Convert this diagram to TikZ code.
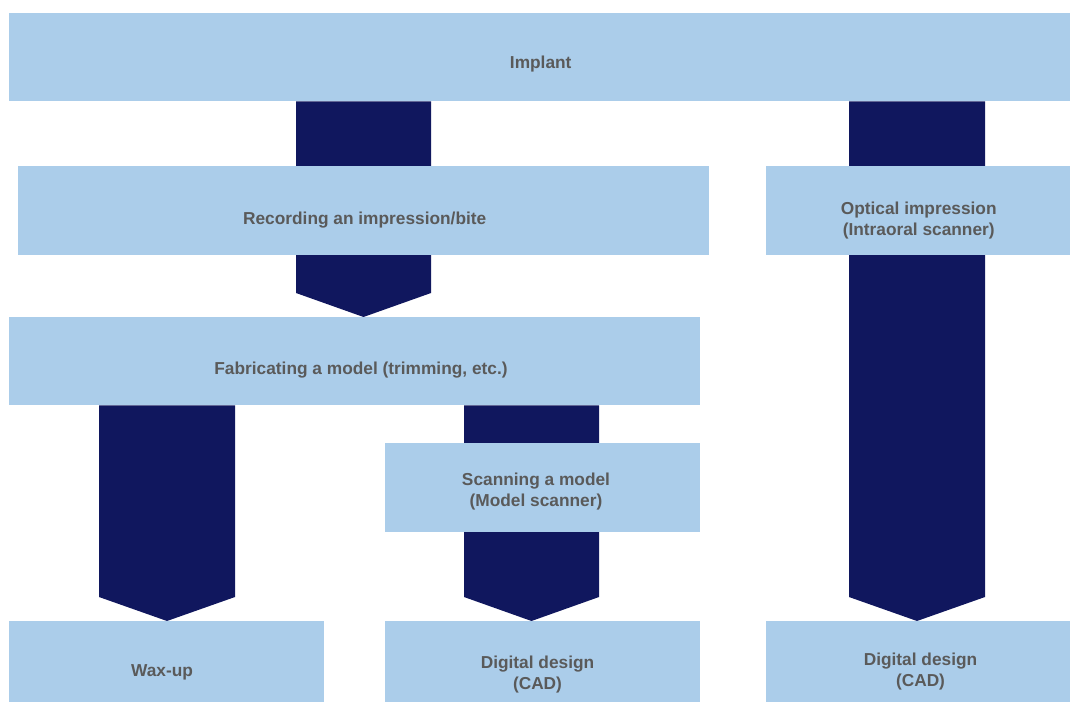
\documentclass[tikz,border=0pt]{standalone}
\usepackage{fontspec}
\setmainfont{Liberation Sans}
\usetikzlibrary{calc}
\definecolor{boxblue}{HTML}{ABCDEA}
\definecolor{arrowblue}{HTML}{10175E}
\definecolor{txtgray}{HTML}{5A5A5A}
\begin{document}
\begin{tikzpicture}[x=1pt,y=-1pt,
  box/.style={fill=boxblue, draw=none, inner sep=0pt, anchor=north west},
  fatarrow/.style={fill=arrowblue, draw=none},
  lbl/.style={font=\fontsize{17.3}{21.5}\selectfont\bfseries, text=txtgray,
              inner sep=0pt, anchor=base, align=center}]
\useasboundingbox (0,0) rectangle (1070,701);

\coordinate (a1l) at (296,0);  \coordinate (a1r) at (431,0);  \coordinate (a1m) at (363.5,0);
\coordinate (a2l) at (849,0);  \coordinate (a2r) at (985,0);  \coordinate (a2m) at (917,0);
\coordinate (a3l) at (99,0);   \coordinate (a3r) at (235,0);  \coordinate (a3m) at (167,0);
\coordinate (a4l) at (464,0);  \coordinate (a4r) at (599,0);  \coordinate (a4m) at (531.5,0);

% box geometry (invisible), used by the connectors
\path node[inner sep=0pt, anchor=north west, minimum width=1061pt, minimum height=88pt] (implant) at (9,13) {};
\path node[inner sep=0pt, anchor=north west, minimum width=691pt, minimum height=88pt] (fab) at (9,317) {};
\path node[inner sep=0pt, anchor=north west, minimum width=315pt, minimum height=88pt] (wax) at (9,621) {};
\path node[inner sep=0pt, anchor=north west, minimum width=315pt, minimum height=88pt] (cadm) at (385,621) {};
\path node[inner sep=0pt, anchor=north west, minimum width=304pt, minimum height=88pt] (cadr) at (766,621) {};

% fat arrows (connectors)
\fill[fatarrow] (a1l |- implant.south) -- (a1r |- implant.south)
  -- ($(a1r |- fab.north)+(0,-24)$) -- (a1m |- fab.north) -- ($(a1l |- fab.north)+(0,-24)$) -- cycle;
\fill[fatarrow] (a2l |- implant.south) -- (a2r |- implant.south)
  -- ($(a2r |- cadr.north)+(0,-24)$) -- (a2m |- cadr.north) -- ($(a2l |- cadr.north)+(0,-24)$) -- cycle;
\fill[fatarrow] (a3l |- fab.south) -- (a3r |- fab.south)
  -- ($(a3r |- wax.north)+(0,-24)$) -- (a3m |- wax.north) -- ($(a3l |- wax.north)+(0,-24)$) -- cycle;
\fill[fatarrow] (a4l |- fab.south) -- (a4r |- fab.south)
  -- ($(a4r |- cadm.north)+(0,-24)$) -- (a4m |- cadm.north) -- ($(a4l |- cadm.north)+(0,-24)$) -- cycle;

% visible boxes
\node[box, minimum width=1061pt, minimum height=88pt] (implantB) at (9,13) {};
\node[box, minimum width=691pt, minimum height=89pt] (rec) at (18,166) {};
\node[box, minimum width=304pt, minimum height=89pt] (opt) at (766,166) {};
\node[box, minimum width=691pt, minimum height=88pt] (fabB) at (9,317) {};
\node[box, minimum width=315pt, minimum height=89pt] (scan) at (385,443) {};
\node[box, minimum width=315pt, minimum height=88pt] (waxB) at (9,621) {};
\node[box, minimum width=315pt, minimum height=88pt] (cadmB) at (385,621) {};
\node[box, minimum width=304pt, minimum height=88pt] (cadrB) at (766,621) {};

% labels (anchor base = baseline of last line)
\node[lbl] (tImplant) at (540.7,69) {Implant};
\node[lbl] (tRec) at (364.7,224) {Recording an impression/bite};
\node[lbl] (tOpt) at (918.7,235.5) {Optical impression\\(Intraoral scanner)};
\node[lbl] (tFab) at (361,374) {Fabricating a model (trimming, etc.)};
\node[lbl] (tScan) at (536,506.5) {Scanning a model\\(Model scanner)};
\node[lbl] (tWax) at (162,676) {Wax-up};
\node[lbl] (tCadm) at (537.5,689.5) {Digital design\\(CAD)};
\node[lbl] (tCadr) at (920.5,686.5) {Digital design\\(CAD)};
\end{tikzpicture}
\end{document}
